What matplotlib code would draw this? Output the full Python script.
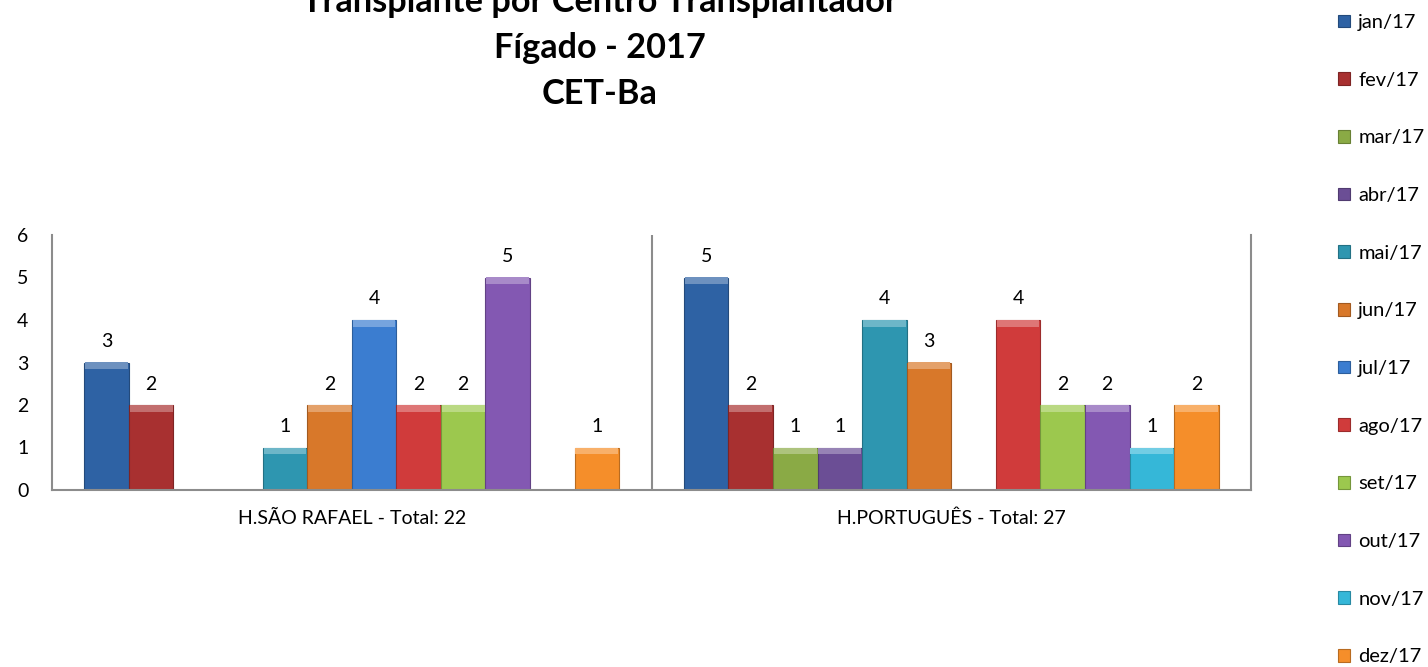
import numpy as np
import matplotlib
matplotlib.use("Agg")
import matplotlib.pyplot as plt

plt.rcParams['font.family'] = ['Lato', 'DejaVu Sans']

meses = ['jan/17', 'fev/17', 'mar/17', 'abr/17', 'mai/17', 'jun/17',
         'jul/17', 'ago/17', 'set/17', 'out/17', 'nov/17', 'dez/17']
centros = ['H.SÃO RAFAEL - Total: 22', 'H.PORTUGUÊS - Total: 27']
sao_rafael = [3, 2, 0, 0, 1, 2, 4, 2, 2, 5, 0, 1]
portugues = [5, 2, 1, 1, 4, 3, 0, 4, 2, 2, 1, 2]
cores = ['#2E62A4', '#A83030', '#8AAA45', '#6B4E95', '#2E96B0', '#D8782A',
         '#3B7DD0', '#D03B3B', '#9CC84E', '#8358B2', '#35B7D8', '#F58E2A']

dados = np.array([sao_rafael, portugues])  # linhas = centros, colunas = meses


def clarear(cor, f):
    c = np.array(matplotlib.colors.to_rgb(cor))
    return tuple(c + (1 - c) * f)


def escurecer(cor, f):
    c = np.array(matplotlib.colors.to_rgb(cor))
    return tuple(c * (1 - f))


fig = plt.figure(figsize=(14.28, 6.67), dpi=100)
ax = fig.add_axes([52/1428, 1 - 490/667, 1199/1428, 255/667])

x = np.arange(len(centros))
n = len(meses)
w = 0.892 / n
bevel = 0.16

for i, mes in enumerate(meses):
    pos = x + (i - (n - 1) / 2) * w
    vals = dados[:, i]
    barras = ax.bar(pos, vals, w, color=cores[i], edgecolor=escurecer(cores[i], 0.25),
                    linewidth=0.8, label=mes, zorder=2)
    # faixa clara no topo (efeito de bisel)
    tem = vals > 0
    ax.bar(pos[tem], bevel, w * 0.96, bottom=vals[tem] - bevel,
           color=clarear(cores[i], 0.3), linewidth=0, zorder=3)
    ax.bar_label(barras, labels=[str(v) if v > 0 else '' for v in vals],
                 padding=9, fontsize=14)

ax.set_xlim(-0.5, 1.5)
ax.set_ylim(0, 6)
ax.set_yticks(range(0, 7))
ax.set_xticks(x)
ax.set_xticklabels(centros, fontsize=14)
ax.tick_params(axis='y', length=0, pad=17, labelsize=14)
ax.tick_params(axis='x', length=0, pad=14)
ax.axvline(0.5, color='#8C8C8C', lw=1.5, zorder=1)
for lado in ['left', 'bottom', 'right']:
    ax.spines[lado].set_color('#8C8C8C')
    ax.spines[lado].set_linewidth(1.5)
ax.spines['top'].set_visible(False)

# a primeira linha do titulo fica cortada no topo, como no original
fig.text(600/1428, 1 - 48/667,
         'Transplante por Centro Transplantador\nFígado - 2017\nCET-Ba',
         ha='center', va='center', fontsize=24.7, fontweight='bold', linespacing=1.55)

fig.legend(loc='upper left', bbox_to_anchor=(1338/1428, 1 - 14/667), frameon=False,
           fontsize=14.5, labelspacing=2.02, handlelength=0.6, handleheight=0.6,
           handletextpad=0.4, borderaxespad=0, borderpad=0)

fig.savefig('out.png', dpi=100)
